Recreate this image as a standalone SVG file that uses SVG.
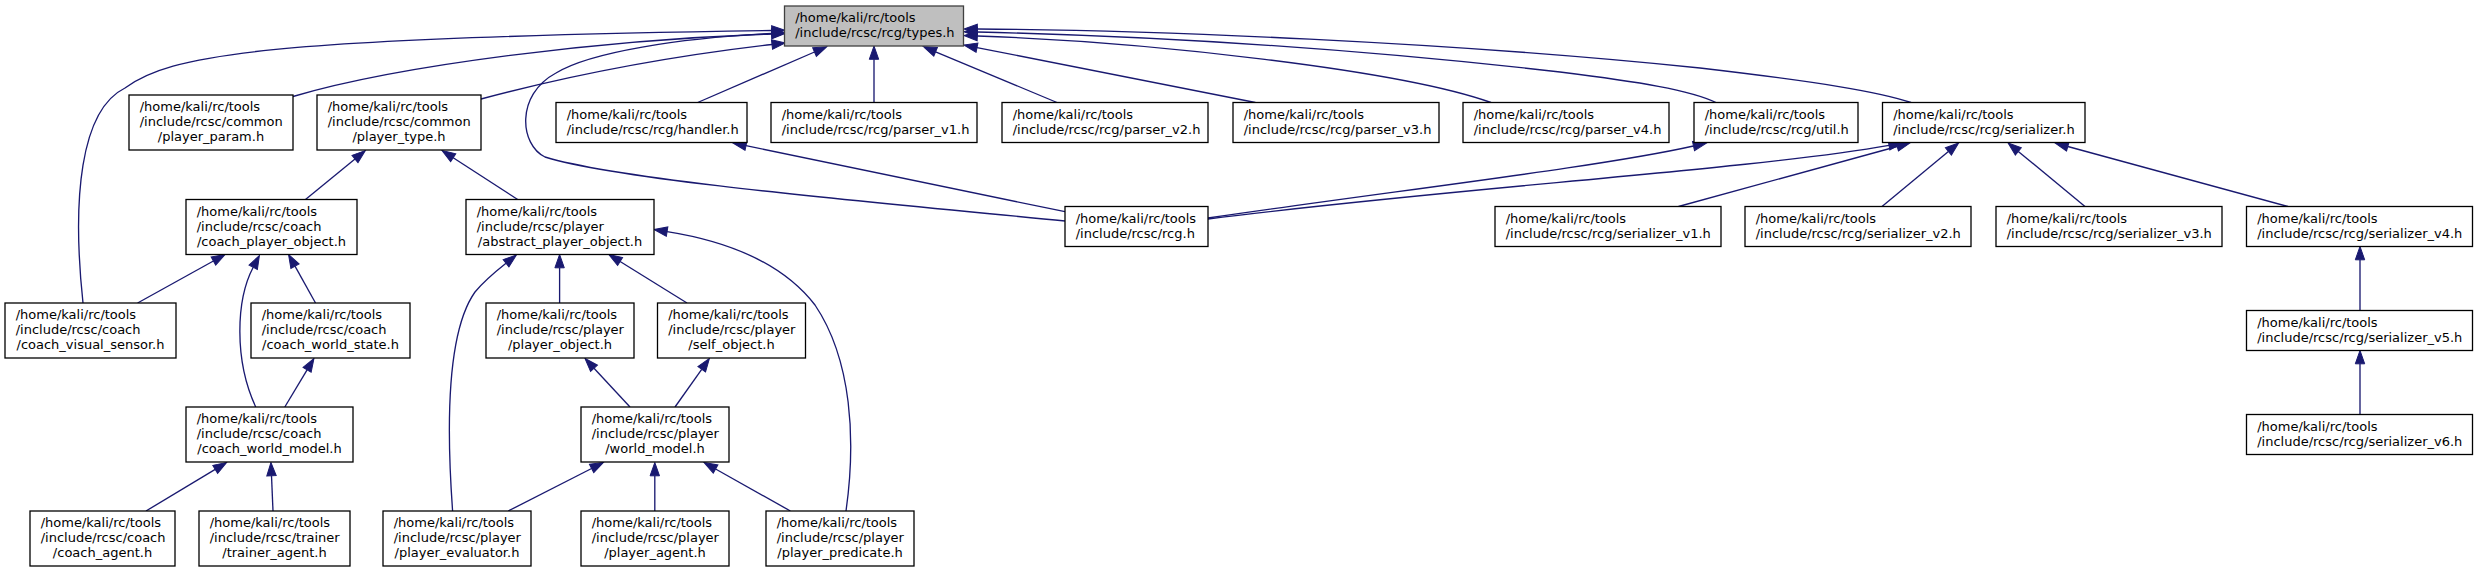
<svg xmlns="http://www.w3.org/2000/svg" width="2479" height="572" viewBox="0 0 2479 572">
<style>
.n rect{fill:#fff;stroke:#000;stroke-width:1.3}
.n.hl rect{fill:#bfbfbf;stroke:#404040}
.n text{font-family:"DejaVu Sans","Liberation Sans",sans-serif;font-size:13px;fill:#000}
.n text.c{text-anchor:middle}
#edges path{fill:none;stroke:#191970;stroke-width:1.33;marker-end:url(#ah)}
</style>
<defs>
<marker id="ah" markerUnits="userSpaceOnUse" markerWidth="14" markerHeight="10" refX="0" refY="5" orient="auto" overflow="visible">
<path d="M0,0.3 L13.3,5 L0,9.7 Z" fill="#191970" stroke="#191970" stroke-width="1"/>
</marker>
</defs>
<rect width="2479" height="572" fill="#fff"/>
<g id="edges">
<path d="M83,303 C72,200 80,110 125,88 C170,55 260,38 771.7,30.5"/>
<path d="M293,96.5 C400,65 600,40 771.7,34"/>
<path d="M481,99 Q620,62 772,44.5"/>
<path d="M1065,221 C850,200 620,180 545,157 C520,145 515,95 556,73 C590,52 680,38 771.7,33.5"/>
<path d="M697.7,102.5 L814.5,52"/>
<path d="M874,102.5 L874,59.3"/>
<path d="M1057,102.5 L935.6,51.8"/>
<path d="M1255.4,102.5 L977,47.6"/>
<path d="M1491,102.5 C1400,70 1150,42 977.3,36"/>
<path d="M1716,102.5 C1690,90 1640,82 1560,72 C1350,48 1150,36 977.3,32"/>
<path d="M1911,102.5 C1880,92 1820,82 1700,68 C1450,42 1150,30 977.3,29"/>
<path d="M1065,211.7 L746,145.7"/>
<path d="M1208,218 C1400,190 1600,167 1693.5,146"/>
<path d="M1208,219 C1450,188 1750,170 1889,145.3"/>
<path d="M1678.5,206.5 L1897.2,146.5"/>
<path d="M1882,206.5 L1948.4,151.4"/>
<path d="M2085,206.5 L2018.3,151.4"/>
<path d="M2288,206.5 L2067.8,146.5"/>
<path d="M2360,310.5 L2360,259.8"/>
<path d="M2360,414.5 L2360,363.8"/>
<path d="M305.5,199.5 L355,159"/>
<path d="M517.7,199.5 L453.2,157.7"/>
<path d="M137.6,303 L213.4,261"/>
<path d="M255.7,407 C234,360 236,300 253.2,267.3"/>
<path d="M315.5,303 L295,266.1"/>
<path d="M284.8,407 L307.1,369.9"/>
<path d="M146,511 L215.2,469.4"/>
<path d="M273,511 L271.5,475.8"/>
<path d="M452.6,511 C446,420 448,330 475,292 C485,280 495,272 506,263.3"/>
<path d="M559.6,303 L559.6,267.8"/>
<path d="M687,303 L620.1,261.5"/>
<path d="M846,511 C856,440 852,360 815,305 C780,260 720,240 667.1,231.6"/>
<path d="M630,407 L594,368.2"/>
<path d="M675,407 L701.7,369.3"/>
<path d="M508.2,511 L591.6,468.5"/>
<path d="M654.8,511 L654.8,475.8"/>
<path d="M790.4,511 L715.6,469"/>
</g>
<g id="types_h" class="n hl"><rect x="784.5" y="6" width="179" height="40"/><text x="795.2" y="22">/home/kali/rc/tools</text><text x="795.2" y="37">/include/rcsc/rcg/types.h</text></g>
<g id="player_param_h" class="n"><rect x="129" y="95" width="164" height="55"/><text x="139.7" y="111">/home/kali/rc/tools</text><text x="139.7" y="126">/include/rcsc/common</text><text class="c" x="211" y="141">/player_param.h</text></g>
<g id="player_type_h" class="n"><rect x="317" y="95" width="164" height="55"/><text x="327.7" y="111">/home/kali/rc/tools</text><text x="327.7" y="126">/include/rcsc/common</text><text class="c" x="399" y="141">/player_type.h</text></g>
<g id="handler_h" class="n"><rect x="556" y="102.5" width="191" height="40"/><text x="566.7" y="118.5">/home/kali/rc/tools</text><text x="566.7" y="133.5">/include/rcsc/rcg/handler.h</text></g>
<g id="parser_v1_h" class="n"><rect x="771" y="102.5" width="206" height="40"/><text x="781.7" y="118.5">/home/kali/rc/tools</text><text x="781.7" y="133.5">/include/rcsc/rcg/parser_v1.h</text></g>
<g id="parser_v2_h" class="n"><rect x="1002" y="102.5" width="206" height="40"/><text x="1012.7" y="118.5">/home/kali/rc/tools</text><text x="1012.7" y="133.5">/include/rcsc/rcg/parser_v2.h</text></g>
<g id="parser_v3_h" class="n"><rect x="1233" y="102.5" width="206" height="40"/><text x="1243.7" y="118.5">/home/kali/rc/tools</text><text x="1243.7" y="133.5">/include/rcsc/rcg/parser_v3.h</text></g>
<g id="parser_v4_h" class="n"><rect x="1463" y="102.5" width="206" height="40"/><text x="1473.7" y="118.5">/home/kali/rc/tools</text><text x="1473.7" y="133.5">/include/rcsc/rcg/parser_v4.h</text></g>
<g id="util_h" class="n"><rect x="1694" y="102.5" width="164" height="40"/><text x="1704.7" y="118.5">/home/kali/rc/tools</text><text x="1704.7" y="133.5">/include/rcsc/rcg/util.h</text></g>
<g id="serializer_h" class="n"><rect x="1882.5" y="102.5" width="202.5" height="40"/><text x="1893.2" y="118.5">/home/kali/rc/tools</text><text x="1893.2" y="133.5">/include/rcsc/rcg/serializer.h</text></g>
<g id="coach_player_object_h" class="n"><rect x="186" y="199.5" width="171" height="55"/><text x="196.7" y="215.5">/home/kali/rc/tools</text><text x="196.7" y="230.5">/include/rcsc/coach</text><text class="c" x="271.5" y="245.5">/coach_player_object.h</text></g>
<g id="abstract_player_object_h" class="n"><rect x="466" y="199.5" width="188" height="55"/><text x="476.7" y="215.5">/home/kali/rc/tools</text><text x="476.7" y="230.5">/include/rcsc/player</text><text class="c" x="560" y="245.5">/abstract_player_object.h</text></g>
<g id="rcg_h" class="n"><rect x="1065" y="206.5" width="143" height="40"/><text x="1075.7" y="222.5">/home/kali/rc/tools</text><text x="1075.7" y="237.5">/include/rcsc/rcg.h</text></g>
<g id="serializer_v1_h" class="n"><rect x="1495" y="206.5" width="226" height="40"/><text x="1505.7" y="222.5">/home/kali/rc/tools</text><text x="1505.7" y="237.5">/include/rcsc/rcg/serializer_v1.h</text></g>
<g id="serializer_v2_h" class="n"><rect x="1745" y="206.5" width="226" height="40"/><text x="1755.7" y="222.5">/home/kali/rc/tools</text><text x="1755.7" y="237.5">/include/rcsc/rcg/serializer_v2.h</text></g>
<g id="serializer_v3_h" class="n"><rect x="1996" y="206.5" width="226" height="40"/><text x="2006.7" y="222.5">/home/kali/rc/tools</text><text x="2006.7" y="237.5">/include/rcsc/rcg/serializer_v3.h</text></g>
<g id="serializer_v4_h" class="n"><rect x="2246.5" y="206.5" width="226" height="40"/><text x="2257.2" y="222.5">/home/kali/rc/tools</text><text x="2257.2" y="237.5">/include/rcsc/rcg/serializer_v4.h</text></g>
<g id="coach_visual_sensor_h" class="n"><rect x="5" y="303" width="171" height="55"/><text x="15.7" y="319">/home/kali/rc/tools</text><text x="15.7" y="334">/include/rcsc/coach</text><text class="c" x="90.5" y="349">/coach_visual_sensor.h</text></g>
<g id="coach_world_state_h" class="n"><rect x="251" y="303" width="159" height="55"/><text x="261.7" y="319">/home/kali/rc/tools</text><text x="261.7" y="334">/include/rcsc/coach</text><text class="c" x="330.5" y="349">/coach_world_state.h</text></g>
<g id="player_object_h" class="n"><rect x="486" y="303" width="148" height="55"/><text x="496.7" y="319">/home/kali/rc/tools</text><text x="496.7" y="334">/include/rcsc/player</text><text class="c" x="560" y="349">/player_object.h</text></g>
<g id="self_object_h" class="n"><rect x="657.5" y="303" width="148" height="55"/><text x="668.2" y="319">/home/kali/rc/tools</text><text x="668.2" y="334">/include/rcsc/player</text><text class="c" x="731.5" y="349">/self_object.h</text></g>
<g id="serializer_v5_h" class="n"><rect x="2246.5" y="310.5" width="226" height="40"/><text x="2257.2" y="326.5">/home/kali/rc/tools</text><text x="2257.2" y="341.5">/include/rcsc/rcg/serializer_v5.h</text></g>
<g id="coach_world_model_h" class="n"><rect x="186" y="407" width="167" height="55"/><text x="196.7" y="423">/home/kali/rc/tools</text><text x="196.7" y="438">/include/rcsc/coach</text><text class="c" x="269.5" y="453">/coach_world_model.h</text></g>
<g id="world_model_h" class="n"><rect x="581" y="407" width="148" height="55"/><text x="591.7" y="423">/home/kali/rc/tools</text><text x="591.7" y="438">/include/rcsc/player</text><text class="c" x="655" y="453">/world_model.h</text></g>
<g id="serializer_v6_h" class="n"><rect x="2246.5" y="414.5" width="226" height="40"/><text x="2257.2" y="430.5">/home/kali/rc/tools</text><text x="2257.2" y="445.5">/include/rcsc/rcg/serializer_v6.h</text></g>
<g id="coach_agent_h" class="n"><rect x="30" y="511" width="145" height="55"/><text x="40.7" y="527">/home/kali/rc/tools</text><text x="40.7" y="542">/include/rcsc/coach</text><text class="c" x="102.5" y="557">/coach_agent.h</text></g>
<g id="trainer_agent_h" class="n"><rect x="199" y="511" width="151" height="55"/><text x="209.7" y="527">/home/kali/rc/tools</text><text x="209.7" y="542">/include/rcsc/trainer</text><text class="c" x="274.5" y="557">/trainer_agent.h</text></g>
<g id="player_evaluator_h" class="n"><rect x="383" y="511" width="148" height="55"/><text x="393.7" y="527">/home/kali/rc/tools</text><text x="393.7" y="542">/include/rcsc/player</text><text class="c" x="457" y="557">/player_evaluator.h</text></g>
<g id="player_agent_h" class="n"><rect x="581" y="511" width="148" height="55"/><text x="591.7" y="527">/home/kali/rc/tools</text><text x="591.7" y="542">/include/rcsc/player</text><text class="c" x="655" y="557">/player_agent.h</text></g>
<g id="player_predicate_h" class="n"><rect x="766" y="511" width="148" height="55"/><text x="776.7" y="527">/home/kali/rc/tools</text><text x="776.7" y="542">/include/rcsc/player</text><text class="c" x="840" y="557">/player_predicate.h</text></g>
</svg>
